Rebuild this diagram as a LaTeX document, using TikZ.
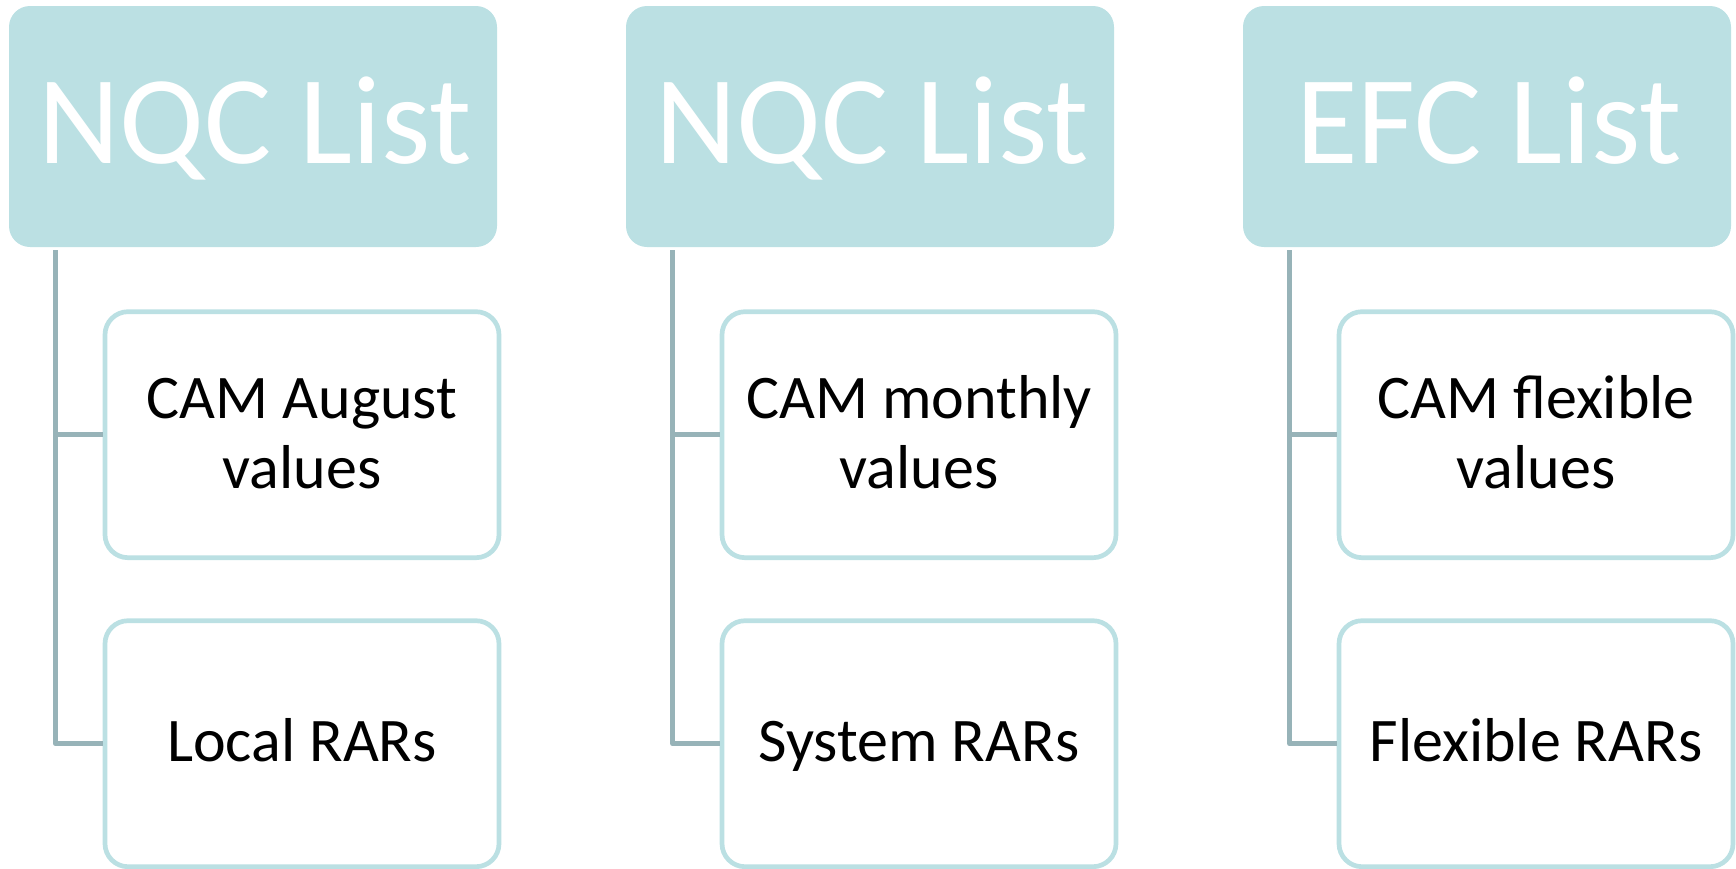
\documentclass[tikz,border=0pt]{standalone}
\usepackage{fontspec}
\setmainfont{Carlito}
\definecolor{hdrfill}{HTML}{BBE0E3}
\definecolor{boxline}{HTML}{BBE0E3}
\definecolor{connline}{HTML}{97B3B8}
\begin{document}
\begin{tikzpicture}[x=1pt,y=-1pt,
  header/.style={rectangle, rounded corners=21pt, fill=hdrfill, minimum width=488pt, minimum height=241pt, inner sep=0pt, outer sep=0pt},
  childbox/.style={rectangle, rounded corners=23pt, draw=boxline, line width=4.7pt, fill=white, minimum width=394pt, minimum height=246pt, inner sep=0pt},
  hdrtext/.style={anchor=base, inner sep=0pt, text=white, font=\fontsize{126}{151}\selectfont},
  boxtext/.style={anchor=base, inner sep=0pt, text=black, font=\fontsize{62}{74}\selectfont},
  conn/.style={draw=connline, line width=5.5pt, line join=round}]
\useasboundingbox (0,0) rectangle (1736,868);
\foreach \L/\g/\h/\a/\b/\c in {9/1/NQC List/CAM August/values/Local RARs,
                               626/2/NQC List/CAM monthly/values/System RARs,
                               1243/3/EFC List/CAM flexible/values/Flexible RARs}{
  \node[header] (h\g) at (\L+244,126.5) {};
  \node[hdrtext] (ht\g) at (\L+246,163.3) {\h};
  \node[childbox] (ba\g) at (\L+293,434.7) {};
  \node[childbox] (bb\g) at (\L+293,743.7) {};
  \node[boxtext] (ta\g) at (\L+293,418.3) {\a};
  \node[boxtext] (tb\g) at (\L+293,488.3) {\b};
  \node[boxtext] (tc\g) at (\L+293,761.7) {\c};
  \coordinate (s\g) at ([xshift=46.7pt,yshift=-3pt]h\g.south west);
  \draw[conn] (s\g) |- (bb\g.west);
  \draw[conn] (s\g |- ba\g.west) -- (ba\g.west);
}
\end{tikzpicture}
\end{document}
